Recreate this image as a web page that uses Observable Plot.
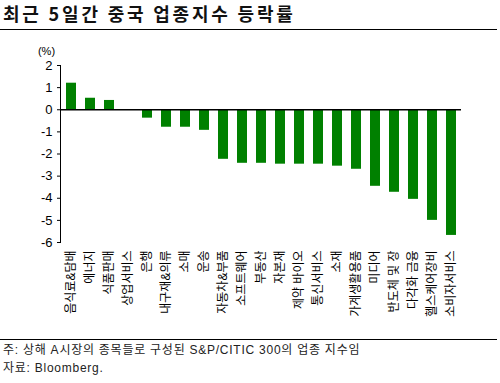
<!DOCTYPE html>
<html>
<head>
<meta charset="utf-8">
<script src="https://cdn.jsdelivr.net/npm/d3@7"></script>
<script src="https://cdn.jsdelivr.net/npm/@observablehq/plot@0.6"></script>
<style>
  html, body { margin: 0; padding: 0; background: #fff; }
  body { width: 500px; height: 383px; overflow: hidden; font-family: "Liberation Sans", "Noto Sans CJK KR", sans-serif; }
  #title { height: 29px; border-bottom: 1.5px solid #000; box-sizing: content-box; margin-right: 3px;
           font-family: "Noto Sans CJK KR", sans-serif; font-weight: bold; font-size: 18px; line-height: 26px; padding-left: 3px; color: #111; letter-spacing: 2.8px; white-space: nowrap; }
  #chart svg { display: block; }
  #foot { border-top: 1.5px solid #000; margin-right: 3px; padding-left: 3px; font-size: 12px; color: #222; line-height: 18px; padding-top: 1px; letter-spacing: 0.75px; white-space: nowrap; }
</style>
</head>
<body>
<div id="title">최근 5일간 중국 업종지수 등락률</div>
<div id="chart"></div>
<div id="foot">
  <div>주: 상해 A시장의 종목들로 구성된 S&amp;P/CITIC 300의 업종 지수임</div>
  <div>자료: Bloomberg.</div>
</div>
<script>
const categories = ["음식료&담배", "에너지", "식품판매", "상업서비스", "은행", "내구재&의류", "소매", "운송", "자동차&부품", "소프트웨어", "부동산", "자본재", "제약 바이오", "통신서비스", "소재", "가계생활용품", "미디어", "반도체 및 장", "다각화 금융", "헬스케어장비", "소비자서비스"];
const values = [1.2, 0.52, 0.42, 0.0, -0.38, -0.79, -0.79, -0.93, -2.24, -2.42, -2.42, -2.46, -2.46, -2.46, -2.55, -2.69, -3.46, -3.73, -4.05, -5.0, -5.68];
const yTicks = [2, 1, 0, -1, -2, -3, -4, -5, -6];
const unitLabel = ["(%)"];

const data = categories.map((c, i) => ({c, v: values[i]}));

const chart = Plot.plot({
  width: 500,
  height: 309,
  marginLeft: 60,
  marginRight: 39,
  marginTop: 35,
  marginBottom: 97,
  x: {domain: categories, paddingInner: 0.5, paddingOuter: 0.25, label: null},
  y: {domain: [-6, 2], label: null},
  style: {fontFamily: '"Liberation Sans", "Noto Sans CJK KR", sans-serif', fontSize: "12px", color: "#000", background: "#fff"},
  marks: [
    Plot.barY(data, {x: "c", y: "v", fill: "#008000"}),
    Plot.ruleY([0], {stroke: "#000", strokeWidth: 1.5}),
    Plot.frame({anchor: "left", stroke: "#000"}),
    Plot.axisY({ticks: yTicks, tickSize: 3, tickPadding: 5, label: null, tickFormat: d => String(d), fontSize: 13}),
    Plot.axisX({tickSize: 0, tickRotate: -90, tickPadding: 8, label: null, fontSize: 12}),
    Plot.text(unitLabel, {frameAnchor: "top-left", text: d => d, dx: -14, dy: -18, textAnchor: "middle", fontSize: 11})
  ]
});
document.getElementById("chart").appendChild(chart);
</script>
</body>
</html>
